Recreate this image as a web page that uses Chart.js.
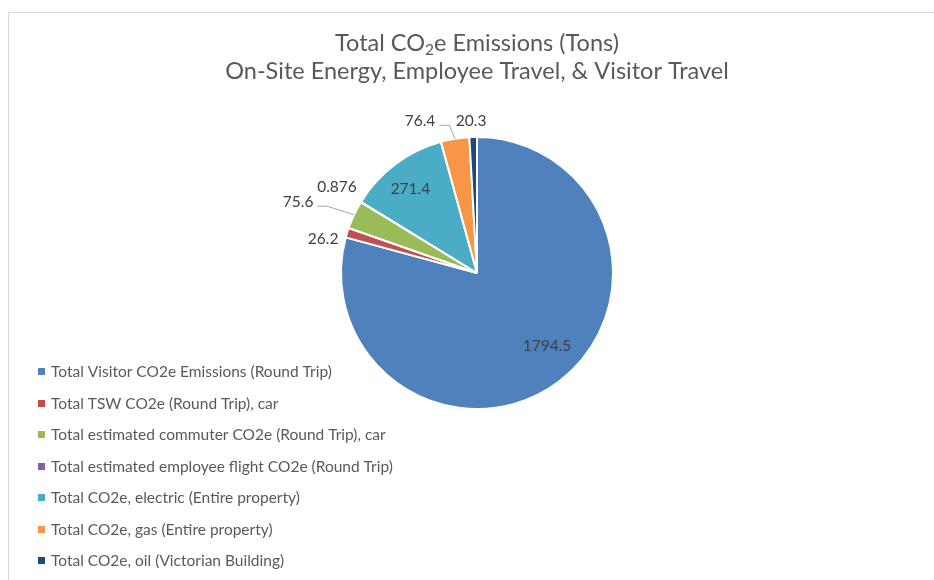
<!DOCTYPE html>
<html>
<head>
<meta charset="utf-8">
<script src="https://cdn.jsdelivr.net/npm/chart.js@4.4.1/dist/chart.umd.min.js"></script>
<style>
  html, body { margin: 0; padding: 0; background: #ffffff; overflow: hidden; }
  canvas { display: block; }
</style>
</head>
<body>
<canvas id="c" width="934" height="580"></canvas>
<script>
// Emission sources, in drawing order (clockwise from 12 o'clock)
const categories = [
  'Total Visitor CO2e Emissions (Round Trip)',
  'Total TSW CO2e (Round Trip), car',
  'Total estimated commuter CO2e (Round Trip), car',
  'Total estimated employee flight CO2e (Round Trip)',
  'Total CO2e, electric (Entire property)',
  'Total CO2e, gas (Entire property)',
  'Total CO2e, oil (Victorian Building)'
];
// Tons of CO2e per source
const emissions = [1794.5, 26.2, 75.6, 0.876, 271.4, 76.4, 20.3];
const sliceColors = ['#4F81BD', '#C0504D', '#9BBB59', '#8064A2', '#4BACC6', '#F79646', '#1F497D'];

const titleLine1 = ['Total CO', '2', 'e Emissions (Tons)'];
const titleLine2 = 'On-Site Energy, Employee Travel, & Visitor Travel';

// Where each value label sits: k = fraction of radius along the slice's mid-angle,
// dx/dy = nudge from that point, leader = draw a connector back to the slice edge
const labelLayout = [
  { k: 0.75, dx: 8,   dy: -8 },
  { k: 1.0,  dx: -24, dy: 6 },
  { k: 1.0,  dx: -56, dy: -13, leader: true },
  { k: 1.0,  dx: -24, dy: -15 },
  { k: 0.79, dx: -2,  dy: 2 },
  { k: 1.0,  dx: -35, dy: -18, leader: true },
  { k: 1.0,  dx: -2,  dy: -16 }
];

const FONT = 'Lato, "Open Sans", sans-serif';
const TEXT_GREY = '#595959';
const LABEL_GREY = '#404040';

const decorations = {
  id: 'decorations',
  afterDraw(chart) {
    const ctx = chart.ctx;
    ctx.save();

    // frame around the chart
    ctx.strokeStyle = '#d9d9d9';
    ctx.lineWidth = 1;
    ctx.beginPath();
    ctx.moveTo(8.5, 600);
    ctx.lineTo(8.5, 12.5);
    ctx.lineTo(960, 12.5);
    ctx.stroke();

    // title with subscripted 2
    ctx.fillStyle = TEXT_GREY;
    ctx.textBaseline = 'alphabetic';
    ctx.textAlign = 'left';
    const big = '23.5px ' + FONT, small = '15.5px ' + FONT;
    ctx.font = big;
    const w0 = ctx.measureText(titleLine1[0]).width;
    const w2 = ctx.measureText(titleLine1[2]).width;
    ctx.font = small;
    const w1 = ctx.measureText(titleLine1[1]).width;
    let x = 477 - (w0 + w1 + w2) / 2;
    ctx.font = big;
    ctx.fillText(titleLine1[0], x, 51);
    x += w0;
    ctx.font = small;
    ctx.fillText(titleLine1[1], x, 55);
    x += w1;
    ctx.font = big;
    ctx.fillText(titleLine1[2], x, 51);
    ctx.textAlign = 'center';
    ctx.fillText(titleLine2, 477, 79);

    // legend
    ctx.font = '15.5px ' + FONT;
    ctx.textAlign = 'left';
    ctx.textBaseline = 'middle';
    categories.forEach((name, i) => {
      const cy = 371 + i * 31.5;
      ctx.fillStyle = sliceColors[i];
      ctx.fillRect(38, Math.round(cy) - 3, 7, 7);
      ctx.fillStyle = TEXT_GREY;
      ctx.fillText(name, 51, cy + 1);
    });

    // value labels
    const meta = chart.getDatasetMeta(0);
    ctx.font = '15.5px ' + FONT;
    ctx.textAlign = 'center';
    ctx.textBaseline = 'middle';
    meta.data.forEach((arc, i) => {
      const p = arc.getProps(['x', 'y', 'startAngle', 'endAngle', 'outerRadius'], true);
      const mid = (p.startAngle + p.endAngle) / 2;
      const L = labelLayout[i];
      const ax = p.x + Math.cos(mid) * p.outerRadius * L.k;
      const ay = p.y + Math.sin(mid) * p.outerRadius * L.k;
      const lx = ax + L.dx, ly = ay + L.dy;
      const text = String(emissions[i]);
      if (L.leader) {
        const right = lx + ctx.measureText(text).width / 2;
        ctx.strokeStyle = '#a6a6a6';
        ctx.lineWidth = 1;
        ctx.beginPath();
        ctx.moveTo(right + 4, ly + 4.5);
        ctx.lineTo(right + 14, ly + 4.5);
        ctx.lineTo(ax, ay);
        ctx.stroke();
      }
      ctx.fillStyle = LABEL_GREY;
      ctx.fillText(text, lx, ly);
    });

    ctx.restore();
  }
};

new Chart(document.getElementById('c'), {
  type: 'pie',
  data: {
    labels: categories,
    datasets: [{
      data: emissions,
      backgroundColor: sliceColors,
      borderColor: '#ffffff',
      borderWidth: 2,
      radius: 136
    }]
  },
  options: {
    responsive: false,
    devicePixelRatio: 1,
    animation: false,
    layout: { padding: { left: 341, right: 321, top: 137, bottom: 171 } },
    plugins: {
      legend: { display: false },
      title: { display: false },
      tooltip: { enabled: false }
    }
  },
  plugins: [decorations]
});
</script>
</body>
</html>
